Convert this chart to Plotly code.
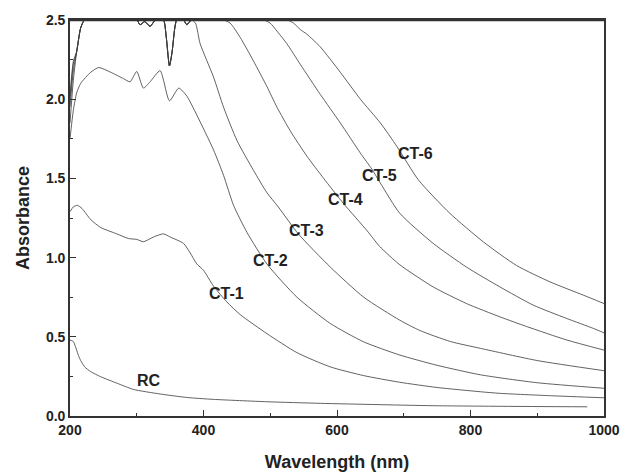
import plotly.graph_objects as go

# ---------------- data ----------------
# shared saturated prefix of CT-3 ... CT-6 (detector limit ~2.5)
sat_x = [210, 216, 222, 260, 280, 300, 305, 312, 320, 328, 340, 344, 349, 353, 357, 360, 370, 375, 382]
sat_y = [2.30, 2.45, 2.50, 2.50, 2.50, 2.50, 2.47, 2.49, 2.46, 2.50, 2.50, 2.40, 2.21, 2.30, 2.45, 2.50, 2.50, 2.47, 2.50]

rc_x = [200, 205, 208, 212, 216, 222, 231, 246, 271, 295, 335, 375, 415, 495, 575, 660, 744, 850, 975]
rc_y = [0.48, 0.47, 0.44, 0.39, 0.35, 0.31, 0.28, 0.248, 0.206, 0.168, 0.139, 0.117, 0.105, 0.09, 0.08, 0.072, 0.065, 0.061, 0.058]

ct1_x = [200, 205, 211, 218, 231, 246, 270, 288, 300, 310, 325, 340, 350, 370, 380, 390, 400, 415, 435, 455,
         495, 540, 590, 640, 694, 750, 815, 844, 920, 1000]
ct1_y = [1.29, 1.32, 1.33, 1.31, 1.24, 1.19, 1.15, 1.12, 1.115, 1.10, 1.13, 1.15, 1.13, 1.09, 1.03, 0.96, 0.92, 0.82, 0.72, 0.64,
         0.52, 0.40, 0.31, 0.255, 0.213, 0.18, 0.153, 0.143, 0.128, 0.115]

ct2_x = [200, 205, 210, 216, 231, 243, 261, 280, 290, 300, 310, 320, 335, 349, 363, 375, 390, 415, 430, 445,
         465, 495, 540, 590, 640, 694, 750, 815, 900, 1000]
ct2_y = [1.75, 1.93, 2.04, 2.10, 2.17, 2.20, 2.17, 2.13, 2.11, 2.175, 2.07, 2.11, 2.18, 1.99, 2.07, 2.02, 1.90, 1.68, 1.52, 1.33,
         1.16, 0.96, 0.75, 0.584, 0.468, 0.385, 0.32, 0.26, 0.21, 0.175]

ct3_start = [1.85, 2.12]
ct3_tail_x = [388, 395, 415, 430, 450, 475, 495, 512, 542, 590, 640, 694, 724, 770, 815, 900, 1000]
ct3_tail_y = [2.48, 2.35, 2.14, 1.95, 1.74, 1.55, 1.41, 1.32, 1.15, 0.94, 0.75, 0.605, 0.54, 0.47, 0.427, 0.35, 0.286]

ct4_start = [1.95, 2.18]
ct4_tail_x = [430, 440, 455, 475, 495, 510, 530, 555, 580, 610, 645, 664, 694, 744, 794, 844, 884, 944, 1000]
ct4_tail_y = [2.50, 2.48, 2.39, 2.24, 2.08, 1.95, 1.80, 1.64, 1.50, 1.34, 1.17, 1.07, 0.955, 0.815, 0.71, 0.626, 0.565, 0.48, 0.416]

ct5_start = [2.00, 2.22]
ct5_tail_x = [490, 500, 510, 525, 545, 575, 605, 635, 652, 665, 694, 744, 794, 844, 894, 944, 984, 1000]
ct5_tail_y = [2.50, 2.48, 2.43, 2.35, 2.22, 2.03, 1.85, 1.66, 1.56, 1.47, 1.28, 1.09, 0.94, 0.815, 0.70, 0.616, 0.553, 0.525]

ct6_start = [2.02, 2.24]
ct6_tail_x = [525, 535, 545, 555, 575, 605, 635, 665, 690, 722, 769, 819, 869, 919, 969, 1000]
ct6_tail_y = [2.50, 2.48, 2.44, 2.41, 2.33, 2.17, 2.00, 1.85, 1.70, 1.49, 1.28, 1.10, 0.95, 0.847, 0.763, 0.71]

start_x = [200, 205]

labels = ["RC", "CT-1", "CT-2", "CT-3", "CT-4", "CT-5", "CT-6"]
label_x = [318, 434, 500, 555, 613, 664, 717]
label_y = [0.227, 0.774, 0.984, 1.168, 1.365, 1.52, 1.656]

x_ticks = [200, 400, 600, 800, 1000]
y_ticks = [0.0, 0.5, 1.0, 1.5, 2.0, 2.5]


def saturated(start_y, tail_x, tail_y):
    xs = list(start_x)
    ys = list(start_y)
    for x, y in zip(sat_x, sat_y):
        if x < tail_x[0]:
            xs.append(x)
            ys.append(y)
    return xs + list(tail_x), ys + list(tail_y)


series = [
    (rc_x, rc_y),
    (ct1_x, ct1_y),
    (ct2_x, ct2_y),
    saturated(ct3_start, ct3_tail_x, ct3_tail_y),
    saturated(ct4_start, ct4_tail_x, ct4_tail_y),
    saturated(ct5_start, ct5_tail_x, ct5_tail_y),
    saturated(ct6_start, ct6_tail_x, ct6_tail_y),
]

FONT = "Liberation Sans, Arial, Helvetica, sans-serif"

fig = go.Figure()
for name, (xs, ys) in zip(labels, series):
    fig.add_trace(go.Scatter(
        x=xs, y=ys, mode="lines", name=name,
        line=dict(color="#3a3a3a", width=0.8, shape="spline", smoothing=0.6),
        showlegend=False, hoverinfo="skip",
    ))

for t, x, y in zip(labels, label_x, label_y):
    fig.add_annotation(x=x, y=y, text=t, showarrow=False,
                       font=dict(family=FONT, size=16, color="#222", weight="bold"))

fig.update_layout(
    width=622, height=472,
    margin=dict(l=70, r=18, t=20, b=56, autoexpand=False),
    paper_bgcolor="white", plot_bgcolor="white",
    font=dict(family=FONT, color="#222"),
)

fig.update_xaxes(
    range=[200, 1000], tickvals=x_ticks, ticktext=[str(v) for v in x_ticks],
    ticks="inside", ticklen=6, tickwidth=1.3, tickcolor="#333",
    minor=dict(dtick=100, ticks="inside", ticklen=3, tickcolor="#333", tickwidth=1),
    showline=True, linecolor="#333", linewidth=1.6, mirror=True,
    showgrid=False, zeroline=False, automargin=False,
    tickfont=dict(family=FONT, size=14, color="#222", weight="bold"),
    title=dict(text="Wavelength (nm)", font=dict(family=FONT, size=18, color="#222", weight="bold"), standoff=20),
)
fig.update_yaxes(
    range=[0, 2.5], tickvals=y_ticks, ticktext=[f"{v:.1f}" for v in y_ticks],
    ticks="inside", ticklen=6, tickwidth=1.3, tickcolor="#333",
    minor=dict(dtick=0.25, ticks="inside", ticklen=3, tickcolor="#333", tickwidth=1),
    showline=True, linecolor="#333", linewidth=1.6, mirror=True,
    showgrid=False, zeroline=False, automargin=False,
    tickfont=dict(family=FONT, size=14, color="#222", weight="bold"),
    title=dict(text="Absorbance", font=dict(family=FONT, size=18, color="#222", weight="bold"), standoff=12),
)

# heavier top frame line as in the reference
fig.add_shape(type="line", xref="paper", yref="paper", x0=0, x1=1, y0=1, y1=1,
              line=dict(color="#333", width=2.4))

fig.write_html(
    "out.html",
    config={"displayModeBar": False},
    post_script="document.body.style.margin='0';document.body.style.padding='0';"
                "document.body.style.overflow='hidden';",
)
